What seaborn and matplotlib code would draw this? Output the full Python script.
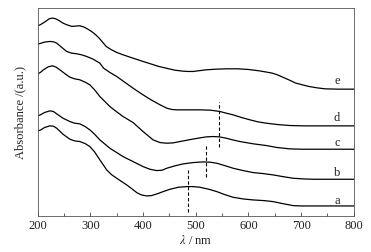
import numpy as np
import pandas as pd
import matplotlib
matplotlib.use("Agg")
import matplotlib.pyplot as plt
from matplotlib.ticker import MultipleLocator
import seaborn as sns

# spectra (offset, arbitrary units)
wl_a = [200, 205, 213, 223, 230, 236, 248, 261, 270, 280, 290, 299, 308, 318, 331, 340, 350, 369, 380, 388, 397, 407, 416, 426, 440, 451, 467, 483, 495, 508, 525, 540, 555, 571, 590, 609, 630, 647, 665, 685, 700, 800]
abs_a = [2.55, 2.57, 2.65, 2.70, 2.69, 2.63, 2.45, 2.30, 2.25, 2.23, 2.17, 2.08, 1.92, 1.68, 1.38, 1.24, 1.13, 0.93, 0.80, 0.70, 0.63, 0.60, 0.61, 0.66, 0.74, 0.80, 0.86, 0.88, 0.88, 0.86, 0.80, 0.73, 0.64, 0.56, 0.51, 0.48, 0.46, 0.43, 0.37, 0.31, 0.30, 0.30]

wl_b = [200, 205, 213, 223, 230, 236, 248, 261, 270, 280, 290, 299, 308, 318, 337, 350, 362, 381, 400, 413, 426, 436, 445, 460, 476, 495, 514, 528, 540, 555, 571, 590, 609, 628, 647, 665, 685, 705, 723, 800]
abs_b = [3.00, 3.03, 3.10, 3.15, 3.13, 3.06, 2.93, 2.83, 2.78, 2.76, 2.68, 2.58, 2.45, 2.28, 2.03, 1.90, 1.78, 1.63, 1.48, 1.40, 1.36, 1.37, 1.43, 1.50, 1.56, 1.60, 1.62, 1.61, 1.58, 1.51, 1.43, 1.36, 1.30, 1.27, 1.23, 1.18, 1.13, 1.11, 1.10, 1.10]

wl_c = [200, 205, 211, 220, 228, 235, 242, 252, 261, 270, 280, 290, 299, 308, 318, 337, 350, 362, 381, 400, 419, 432, 445, 457, 470, 490, 508, 520, 533, 545, 558, 570, 584, 610, 634, 655, 679, 700, 735, 800]
abs_c = [4.26, 4.30, 4.38, 4.47, 4.50, 4.46, 4.38, 4.26, 4.16, 4.11, 4.08, 4.01, 3.93, 3.78, 3.58, 3.28, 3.12, 2.98, 2.80, 2.53, 2.28, 2.20, 2.18, 2.19, 2.23, 2.29, 2.34, 2.37, 2.38, 2.37, 2.33, 2.28, 2.23, 2.16, 2.11, 2.05, 2.01, 2.00, 2.00, 2.00]

wl_d = [200, 205, 213, 223, 230, 236, 245, 255, 264, 274, 283, 293, 305, 318, 325, 337, 350, 365, 381, 397, 413, 430, 445, 455, 464, 485, 508, 528, 546, 558, 571, 587, 603, 618, 634, 655, 679, 705, 735, 800]
abs_d = [5.15, 5.17, 5.21, 5.23, 5.22, 5.18, 5.06, 4.93, 4.88, 4.86, 4.83, 4.78, 4.70, 4.58, 4.43, 4.30, 4.18, 4.01, 3.83, 3.66, 3.50, 3.35, 3.23, 3.19, 3.18, 3.18, 3.18, 3.17, 3.13, 3.08, 3.03, 2.95, 2.88, 2.82, 2.78, 2.74, 2.71, 2.70, 2.70, 2.70]

wl_e = [200, 205, 215, 222, 228, 234, 240, 248, 255, 265, 272, 280, 288, 295, 303, 310, 316, 322, 330, 340, 350, 362, 375, 400, 430, 460, 475, 485, 495, 505, 520, 540, 560, 580, 600, 620, 635, 645, 655, 665, 678, 690, 715, 730, 745, 770, 800]
abs_e = [5.70, 5.73, 5.83, 5.91, 5.93, 5.91, 5.86, 5.78, 5.73, 5.68, 5.69, 5.70, 5.66, 5.60, 5.52, 5.43, 5.34, 5.23, 5.08, 4.98, 4.90, 4.83, 4.76, 4.63, 4.48, 4.37, 4.34, 4.33, 4.33, 4.35, 4.38, 4.40, 4.41, 4.41, 4.39, 4.35, 4.31, 4.28, 4.23, 4.16, 4.07, 3.98, 3.88, 3.84, 3.81, 3.80, 3.80]

labels = ["a", "b", "c", "d", "e"]
label_y = [0.45, 1.28, 2.18, 2.93, 4.03]

# band positions marked with dashed lines
peak_wl = [486, 520, 544]
peak_lo = [0.13, 1.16, 2.08]
peak_hi = [1.38, 2.16, 3.43]

sns.set_style("ticks")
plt.rcParams["font.family"] = ["Liberation Serif", "DejaVu Serif"]
plt.rcParams["mathtext.fontset"] = "stix"

fig = plt.figure(figsize=(3.71, 2.52), dpi=100)
ax = fig.add_axes([0.1016, 0.143, 0.852, 0.825])

series = [(wl_a, abs_a), (wl_b, abs_b), (wl_c, abs_c), (wl_d, abs_d), (wl_e, abs_e)]
for (wl, ab), lab, ly in zip(series, labels, label_y):
    df = pd.DataFrame({"wl": wl, "A": ab})
    sns.lineplot(data=df, x="wl", y="A", color="black", lw=0.9, ax=ax)
    ax.text(768, ly, lab, fontsize=9, ha="center", va="center", color="#222222")

for x, lo, hi in zip(peak_wl, peak_lo, peak_hi):
    ax.plot([x, x], [lo, hi], color="black", lw=0.8, ls=(0, (3, 2)))

ax.set_xlim(200, 800)
ax.set_ylim(0, 6.23)
ax.xaxis.set_major_locator(MultipleLocator(100))
ax.xaxis.set_minor_locator(MultipleLocator(50))
ax.set_yticks([])
ax.tick_params(axis="x", which="both", direction="in", labelsize=9, pad=3,
               color="#444444", labelcolor="#222222")
ax.tick_params(axis="x", which="major", length=3, width=0.6)
ax.tick_params(axis="x", which="minor", length=2, width=0.6)
for s in ax.spines.values():
    s.set_linewidth(0.6)
    s.set_color("#555555")
ax.set_xlabel(r"$\lambda$ / nm", fontsize=9, labelpad=1, color="#222222")
ax.set_ylabel("Absorbance /(a.u.)", fontsize=9, labelpad=8, color="#222222")

fig.savefig("out.png", dpi=100)
